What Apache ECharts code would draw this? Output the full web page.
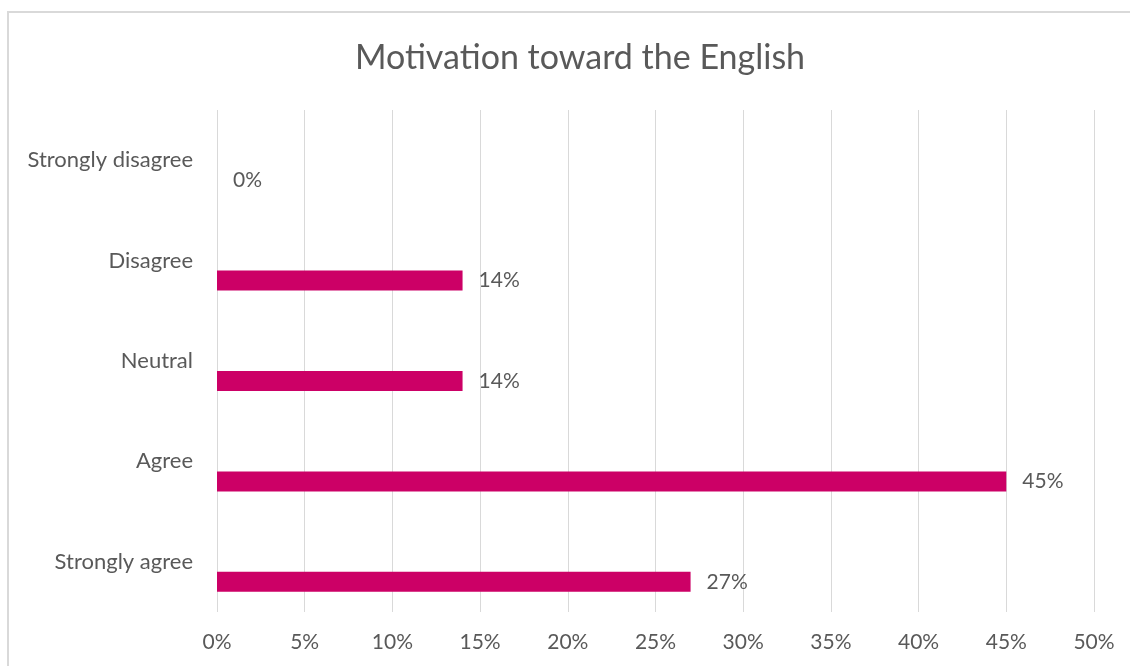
<!DOCTYPE html>
<html>
<head>
<meta charset="utf-8">
<script src="https://cdn.jsdelivr.net/npm/echarts@6/dist/echarts.min.js"></script>
<style>
  html, body { margin: 0; padding: 0; background: #fff; }
  #chart { width: 1130px; height: 666px; }
</style>
</head>
<body>
<div id="chart"></div>
<script>
// Survey responses, listed top to bottom
const categories = ['Strongly disagree', 'Disagree', 'Neutral', 'Agree', 'Strongly agree'];
// Share of respondents per answer (percent)
const shares = [0, 14, 14, 45, 27];
// Value axis ticks (percent)
const axisMin = 0;
const axisMax = 50;
const axisStep = 5;

const font = 'Lato, "Open Sans", sans-serif';
const textColor = '#595959';

const chart = echarts.init(document.getElementById('chart'), null, { renderer: 'canvas' });

chart.setOption({
  animation: false,
  backgroundColor: '#ffffff',
  title: {
    text: 'Motivation toward the English',
    left: 575,
    textAlign: 'center',
    top: 36,
    textStyle: { fontFamily: font, fontSize: 34, fontWeight: 'normal', color: textColor }
  },
  graphic: [{
    type: 'rect',
    silent: true,
    shape: { x: 8, y: 12, width: 1200, height: 720 },
    style: { fill: 'none', stroke: '#d9d9d9', lineWidth: 2 }
  }],
  grid: { left: 217, right: 36, top: 110, bottom: 54, containLabel: false },
  xAxis: {
    type: 'value',
    min: axisMin,
    max: axisMax,
    interval: axisStep,
    axisLine: { show: false },
    axisTick: { show: false },
    splitLine: { show: true, lineStyle: { color: '#d9d9d9', width: 1 } },
    axisLabel: {
      formatter: '{value}%',
      margin: 20,
      fontFamily: font,
      fontSize: 21,
      color: textColor
    }
  },
  yAxis: {
    type: 'category',
    data: categories,
    inverse: true,
    axisLine: { show: false },
    axisTick: { show: false },
    splitLine: { show: false },
    axisLabel: {
      margin: 24,
      fontFamily: font,
      fontSize: 22,
      color: textColor
    }
  },
  series: [
    {
      // empty companion series: keeps the visible bars in the lower slot of each band
      name: 'blank',
      type: 'bar',
      barWidth: 20,
      barGap: '100%',
      data: categories.map(() => null),
      itemStyle: { color: 'transparent' }
    },
    {
      name: 'Motivation',
      type: 'bar',
      barWidth: 20,
      barGap: '100%',
      data: shares,
      itemStyle: { color: '#cc0066' },
      label: {
        show: true,
        position: 'right',
        distance: 16,
        formatter: '{c}%',
        fontFamily: font,
        fontSize: 21,
        color: textColor
      }
    }
  ]
});
</script>
</body>
</html>
